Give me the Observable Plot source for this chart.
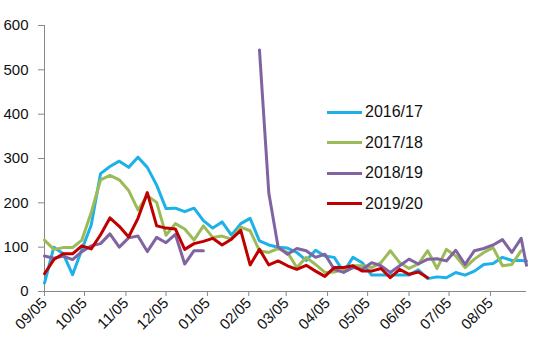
<!DOCTYPE html>
<html><head><meta charset="utf-8">
<script src="https://cdn.jsdelivr.net/npm/d3@7"></script>
<script src="https://cdn.jsdelivr.net/npm/@observablehq/plot@0.6"></script>
<style>
body{margin:0;background:#fff;font-family:"Liberation Sans",Arial,sans-serif;}
#wrap{position:relative;width:550px;height:360px;}
#legend{position:absolute;left:327px;top:97px;font-size:16px;color:#111;}
.row{display:flex;align-items:center;height:30.5px;}
.sw{width:35px;height:3px;margin-right:3px;}
</style></head><body><div id="wrap"><div id="chart"></div><div id="legend"></div></div>
<script>
const seriesNames = ["2016/17", "2017/18", "2018/19", "2019/20"];
const seriesColors = ["#1DB1E8", "#9BBB59", "#8064A2", "#C00000"];
const weekStart = "2016-09-05";
const lastDate = "2017-09-01";
const weekCount = 52;

const s2016 = [19,100,85,38,95,150,266,282,294,280,303,280,240,187,188,180,188,160,143,157,127,153,165,114,105,100,98,88,70,93,80,77,44,77,65,37,37,37,37,37,49,29,33,31,43,37,46,61,63,77,70,70,69];
const s2017 = [116,95,99,99,116,178,252,262,252,228,184,216,201,127,153,141,116,148,122,125,118,145,137,92,88,97,88,54,77,61,43,44,50,58,58,54,65,92,65,52,62,92,52,95,80,54,73,88,99,58,61,92];
const s2018 = [80,75,80,72,90,103,108,130,100,121,125,90,122,110,129,62,92,92,null,null,null,null,null,545,222,100,84,97,92,77,84,50,43,54,50,65,58,43,58,73,62,73,74,69,93,61,92,97,105,117,88,120,59];
const s2019 = [40,72,85,85,103,96,128,166,147,123,165,223,148,143,141,95,108,113,120,105,118,138,60,95,60,69,58,50,59,46,34,54,54,58,46,46,52,31,50,39,44,31];
const seriesValues = [s2016, s2017, s2018, s2019];

const xTickLabels = ["09/05","10/05","11/05","12/05","01/05","02/05","03/05","04/05","05/05","06/05","07/05","08/05"];
const yTicks = [0,100,200,300,400,500,600];

const start = new Date(weekStart + "T00:00:00Z");
const end = new Date(lastDate + "T00:00:00Z");
const dates = d3.range(weekCount).map(i => d3.utcDay.offset(start, 7 * i)).concat([end]);

const tickDates = xTickLabels.map(l => {
  const [m, d] = l.split("/").map(Number);
  return new Date(Date.UTC(m >= 9 ? 2016 : 2017, m - 1, d));
});

const rows = [];
seriesNames.forEach((name, s) => {
  seriesValues[s].forEach((v, i) => rows.push({series: name, date: dates[i], value: v == null ? NaN : v}));
});

const chart = Plot.plot({
  width: 550, height: 360,
  marginTop: 25, marginRight: 24, marginBottom: 69, marginLeft: 44,
  style: {fontFamily: '"Liberation Sans", Arial, sans-serif', fontSize: "15px", color: "#111", background: "#fff"},
  x: {type: "utc", domain: [start, end]},
  y: {domain: [0, 600]},
  color: {domain: seriesNames, range: seriesColors},
  marks: [
    Plot.axisY({ticks: yTicks, tickSize: 6, tickPadding: 10, stroke: "#888", fill: "#111", label: null, fontSize: 15}),
    Plot.axisX({ticks: tickDates, tickFormat: (d, i) => xTickLabels[i], tickRotate: -45, tickSize: 5, tickPadding: 4, stroke: "#888", fill: "#111", label: null, fontSize: 15}),
    Plot.ruleY([0], {stroke: "#888"}),
    Plot.ruleX([start], {stroke: "#888"}),
    Plot.line(rows, {x: "date", y: "value", z: "series", stroke: "series", strokeWidth: 3, strokeLinejoin: "round", strokeLinecap: "round"})
  ]
});
document.getElementById("chart").appendChild(chart);

const legend = document.getElementById("legend");
seriesNames.forEach((name, s) => {
  const row = document.createElement("div");
  row.className = "row";
  const sw = document.createElement("div");
  sw.className = "sw";
  sw.style.background = seriesColors[s];
  const t = document.createElement("span");
  t.textContent = name;
  row.appendChild(sw); row.appendChild(t);
  legend.appendChild(row);
});
</script>
</body></html>
